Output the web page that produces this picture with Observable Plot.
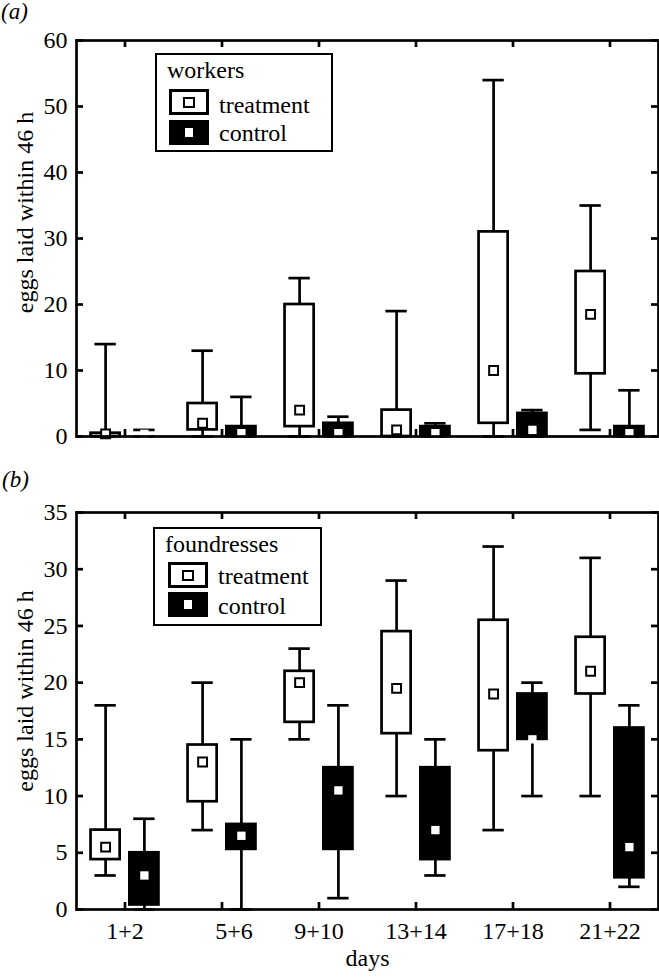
<!DOCTYPE html>
<html><head><meta charset="utf-8">
<script src="https://cdn.jsdelivr.net/npm/d3@7"></script>
<script src="https://cdn.jsdelivr.net/npm/@observablehq/plot@0.6"></script>
<style>
body{margin:0;background:#fff;}
#wrap{position:relative;width:659px;height:980px;font-family:"Liberation Serif",serif;color:#000;overflow:hidden;}
#wrap svg{display:block;overflow:visible;}
.lab{position:absolute;font-size:24px;line-height:22px;white-space:nowrap;}
.panel{position:absolute;font-style:italic;font-size:23px;line-height:22px;}
.legend{position:absolute;border:2px solid #000;background:#fff;box-sizing:border-box;}
.sw{position:absolute;box-sizing:border-box;}
</style></head><body><div id="wrap"></div>
<script>
// categories
const days = ["1+2", "5+6", "9+10", "13+14", "17+18", "21+22"];
const groups = ["treatment", "control"];
const yLabel = "eggs laid within 46 h";
const xLabel = "days";

// (a) workers: min, lower quartile, median, upper quartile, max
const aTreatMin = [0, 0, 0, 0, 0, 1];
const aTreatQ1  = [0, 1, 1.5, 0, 2, 9.5];
const aTreatMed = [0.4, 2, 4, 1, 10, 18.5];
const aTreatQ3  = [0.5, 5, 20, 4, 31, 25];
const aTreatMax = [14, 13, 24, 19, 54, 35];
const aCtrlMin  = [0, 0, 0, 0, 0, 0];
const aCtrlQ1   = [0, 0, 0, 0, 0, 0];
const aCtrlMed  = [0.4, 0.5, 0.5, 0.5, 1, 0.5];
const aCtrlQ3   = [0, 1.5, 2, 1.5, 3.5, 1.5];
const aCtrlMax  = [1, 6, 3, 2, 4, 7];

// (b) foundresses
const bTreatMin = [3, 7, 15, 10, 7, 10];
const bTreatQ1  = [4.4, 9.5, 16.5, 15.5, 14, 19];
const bTreatMed = [5.5, 13, 20, 19.5, 19, 21];
const bTreatQ3  = [7, 14.5, 21, 24.5, 25.5, 24];
const bTreatMax = [18, 20, 23, 29, 32, 31];
const bCtrlMin  = [0, 0, 1, 3, 10, 2];
const bCtrlQ1   = [0.4, 5.3, 5.3, 4.4, 15, 2.8];
const bCtrlMed  = [3, 6.5, 10.5, 7, 15, 5.5];
const bCtrlQ3   = [5, 7.5, 12.5, 12.5, 19, 16];
const bCtrlMax  = [8, 15, 18, 15, 20, 18];

// tick values
const aYTicks = [0, 10, 20, 30, 40, 50, 60];
const bYTicks = [0, 5, 10, 15, 20, 25, 30, 35];

const SW = 2.7;          // line width
const OFF = 0.2;         // group offset from tick (x units)
const HALF = 0.15;       // half box width
const CAP = 0.11;        // half cap width
const W = 659, ML = 76, MR = 1;
const FW = W - ML - MR;
const FONT = "'Liberation Serif', serif";

function rows(min, q1, med, q3, max, off) {
  return days.map((d, i) => ({day: d, xc: i + 1 + off, min: min[i], q1: q1[i], med: med[i], q3: q3[i], max: max[i]}));
}

function panel({height, marginTop, marginBottom, yMax, yTicks, treat, ctrl, showX, labelDy}) {
  const FH = height - marginTop - marginBottom;
  const xTicks = days.map((d, i) => i + 1);
  const t = rows(...treat, -OFF);
  const c = rows(...ctrl, +OFF);
  const all = t.concat(c);
  const marks = [
    Plot.ruleX(all, {x: "xc", y1: "min", y2: "max", stroke: "black", strokeWidth: SW}),
    Plot.ruleY(all, {y: "max", x1: d => d.xc - CAP, x2: d => d.xc + CAP, stroke: "black", strokeWidth: SW}),
    Plot.ruleY(all, {y: "min", x1: d => d.xc - CAP, x2: d => d.xc + CAP, stroke: "black", strokeWidth: SW}),
    Plot.rect(t, {x1: d => d.xc - HALF, x2: d => d.xc + HALF, y1: "q1", y2: "q3", fill: "white", stroke: "black", strokeWidth: SW}),
    Plot.rect(c, {x1: d => d.xc - HALF, x2: d => d.xc + HALF, y1: "q1", y2: "q3", fill: "black", stroke: "black", strokeWidth: SW}),
    Plot.dot(t, {x: "xc", y: "med", symbol: "square", r: 5, fill: "white", stroke: "black", strokeWidth: 2}),
    Plot.dot(c, {x: "xc", y: "med", symbol: "square", r: 4.7, fill: "white", stroke: "none"}),
    Plot.frame({stroke: "black", strokeWidth: SW}),
    Plot.tickY(yTicks, {y: d => d, insetRight: FW - 7, strokeWidth: SW}),
    Plot.tickY(yTicks, {y: d => d, insetLeft: FW - 7, strokeWidth: SW}),
    Plot.tickX(xTicks, {x: d => d, insetTop: FH - 7, strokeWidth: SW}),
    Plot.tickX(xTicks, {x: d => d, insetBottom: FH - 7, strokeWidth: SW}),
    Plot.axisY(yTicks, {tickSize: 0, tickPadding: 9, label: null, fontSize: 24, fontFamily: FONT}),
    Plot.text([yLabel], {frameAnchor: "left", textAnchor: "middle", rotate: -90, dx: -51, dy: labelDy, fontSize: 24, fontFamily: FONT})
  ];
  if (showX) {
    marks.push(
      Plot.axisX(xTicks.filter(v => v !== 2), {tickSize: 0, tickPadding: 12, tickFormat: v => days[v - 1], label: null, fontSize: 24, fontFamily: FONT}),
      Plot.axisX([2], {tickSize: 0, tickPadding: 12, tickFormat: v => days[v - 1], label: null, fontSize: 24, fontFamily: FONT, dx: 12}),
      Plot.text([xLabel], {frameAnchor: "bottom", dy: 56, fontSize: 24, fontFamily: FONT})
    );
  }
  return Plot.plot({
    width: W, height, marginLeft: ML, marginRight: MR, marginTop, marginBottom,
    style: {fontFamily: FONT, fontSize: "24px", background: "white", color: "black", overflow: "visible"},
    x: {domain: [0.5, 6.5], axis: null},
    y: {domain: [0, yMax], axis: null},
    marks
  });
}

const wrap = document.getElementById("wrap");
wrap.append(panel({
  height: 465, marginTop: 40, marginBottom: 29, yMax: 60, yTicks: aYTicks,
  treat: [aTreatMin, aTreatQ1, aTreatMed, aTreatQ3, aTreatMax],
  ctrl: [aCtrlMin, aCtrlQ1, aCtrlMed, aCtrlQ3, aCtrlMax],
  showX: false, labelDy: -26
}));
wrap.append(panel({
  height: 515, marginTop: 47, marginBottom: 71, yMax: 35, yTicks: bYTicks,
  treat: [bTreatMin, bTreatQ1, bTreatMed, bTreatQ3, bTreatMax],
  ctrl: [bCtrlMin, bCtrlQ1, bCtrlMed, bCtrlQ3, bCtrlMax],
  showX: true, labelDy: -20
}));

function el(cls, style, text) {
  const e = document.createElement("div");
  e.className = cls;
  Object.assign(e.style, style);
  if (text != null) e.textContent = text;
  wrap.append(e);
  return e;
}
// panel letters
el("panel", {left: "1px", top: "1px"}, "(a)");
el("panel", {left: "2px", top: "469px"}, "(b)");

// legends
function legend(title, box, sw1Top, sw2Top, swLeft, textLeft, titleTop, t1Top, t2Top) {
  el("legend", box);
  el("lab", {left: (parseFloat(box.left) + 12) + "px", top: titleTop + "px"}, title);
  const s1 = el("sw", {left: swLeft + "px", top: sw1Top + "px", width: "40px", height: "26px", border: "3px solid #000", background: "#fff"});
  const i1 = document.createElement("div");
  Object.assign(i1.style, {position: "absolute", left: "11px", top: "5px", width: "12px", height: "11px", border: "2px solid #000", boxSizing: "border-box"});
  s1.append(i1);
  const s2 = el("sw", {left: swLeft + "px", top: sw2Top + "px", width: "40px", height: "25px", background: "#000"});
  const i2 = document.createElement("div");
  Object.assign(i2.style, {position: "absolute", left: "16px", top: "8px", width: "8px", height: "9px", background: "#fff"});
  s2.append(i2);
  el("lab", {left: textLeft + "px", top: t1Top + "px"}, groups[0]);
  el("lab", {left: textLeft + "px", top: t2Top + "px"}, groups[1]);
}
legend("workers", {left: "155px", top: "53px", width: "178px", height: "99px"}, 89, 120, 169, 219, 59, 94, 122);
legend("foundresses", {left: "153px", top: "527px", width: "169px", height: "99px"}, 562, 592, 168, 218, 533, 565, 595);
</script></body></html>
